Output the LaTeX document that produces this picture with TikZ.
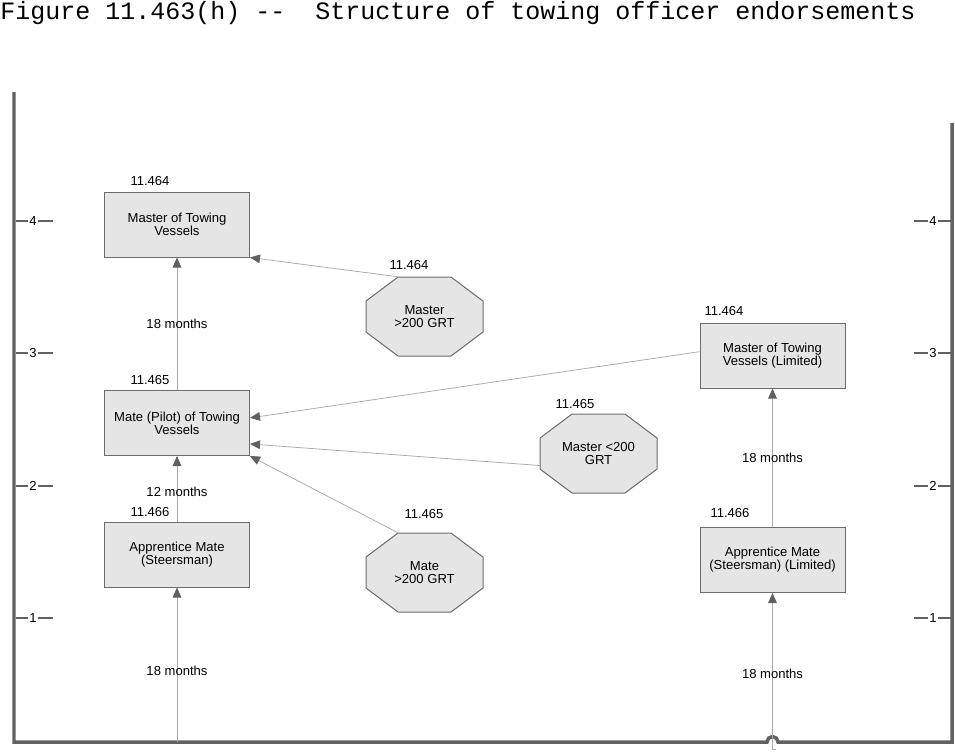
\documentclass[tikz,border=0pt]{standalone}
\usepackage{fontspec}
\setmainfont{Liberation Sans}
\newfontfamily\titlefont{Liberation Mono}
\usetikzlibrary{arrows.meta}

\begin{document}
\begin{tikzpicture}[
        x=0.75pt, y=-0.75pt,
        font=\fontsize{9.8}{9.75}\selectfont,
        endorse/.style={rectangle, draw=gray!85!black, fill=gray!20, line width=0.75pt, minimum width=108.75pt, minimum height=48.75pt, align=center, inner sep=1pt},
        octagon/.style={draw=gray!85!black, fill=gray!20, line width=0.75pt},
        route/.style={rectangle, minimum width=87.75pt, minimum height=59.25pt, align=center, inner sep=1pt},
        tag/.style={inner sep=0pt},
        arrow/.style={-{Triangle[length=7.5pt, width=6.5pt, color=gray!75!black]}, draw=gray!65, line width=0.6pt},
        axis/.style={draw=black!62, line width=2.6pt},
        tick/.style={draw=black!62, line width=1.5pt}
    ]
        \useasboundingbox (0,0) rectangle (955,751);

        % Title
        \node[anchor=base west, inner sep=0pt, font=\titlefont\fontsize{18.75}{20}\selectfont] (title) at (0,19.5) {Figure 11.463(h) -{}-\ \ Structure of towing officer endorsements};

        % Frame and scale
        \draw[axis] (14,92) -- (14,742) -- (767,742) arc[start angle=180, end angle=360, radius=5.5] -- (952,742) -- (952,123);
        \foreach \y/\v in {221/4, 353/3, 486/2, 618/1} {
            \draw[tick] (16,\y) -- (53,\y);
            \node[tag, fill=white, inner xsep=1pt] (lv\v) at (33,\y) {\v};
            \draw[tick] (914,\y) -- (951,\y);
            \node[tag, fill=white, inner xsep=1pt] (rv\v) at (933,\y) {\v};
        }

        % Endorsements
        \node[endorse] (mtv) at (177,224.5) {Master of Towing\\Vessels};
        \node[endorse] (mate) at (177,423) {Mate (Pilot) of Towing\\Vessels};
        \node[endorse] (appr) at (177,554.5) {Apprentice Mate\\(Steersman)};
        \node[endorse] (mtvl) at (772.5,355.5) {Master of Towing\\Vessels (Limited)};
        \node[endorse] (apprl) at (772.5,560) {Apprentice Mate\\(Steersman) (Limited)};

        % Other routes
        \foreach \cx/\cy in {424.5/316.5, 598.5/453.5, 424.5/572.5}
            \draw[octagon] (\cx,\cy) ++(-26.5,-39.5) -- ++(53,0) -- ++(32,24) -- ++(0,31) -- ++(-32,24)
                -- ++(-53,0) -- ++(-32,-24) -- ++(0,-31) -- cycle;
        \node[route] (m200) at (424.5,316.5) {Master\\>200 GRT};
        \node[route] (ml200) at (598.5,453.5) {Master <200\\GRT};
        \node[route] (mt200) at (424.5,572.5) {Mate\\>200 GRT};

        % Section numbers
        \node[tag] (smtv) at (150,181) {11.464};
        \node[tag] (smate) at (150,380) {11.465};
        \node[tag] (sappr) at (150,512) {11.466};
        \node[tag] (smtvl) at (724,311) {11.464};
        \node[tag] (sapprl) at (730,513) {11.466};
        \node[tag] (sm200) at (409,265) {11.464};
        \node[tag] (sml200) at (575,404) {11.465};
        \node[tag] (smt200) at (424,514) {11.465};

        % Sea service
        \coordinate (base) at (177,742);
        \coordinate (basel) at (776,749);
        \draw[arrow] (mate) -- node[tag] (q1) {18 months} (mtv);
        \draw[arrow] (appr) -- node[tag, pos=0.45] (q2) {12 months} (mate);
        \draw[arrow] (base) -- node[tag, pos=0.46] (q3) {18 months} (appr);
        \draw[arrow] (apprl) -- node[tag] (q4) {18 months} (mtvl);
        \draw[arrow] (basel) -- (772.5,749) -- node[tag, pos=0.48] (q5) {18 months} (apprl);

        % Crossovers
        \draw[arrow] ([xshift=-19.9pt]m200.north) -- (mtv.south east);
        \draw[arrow] (mtvl.177) -- (mate.4);
        \draw[arrow] ([yshift=-9pt]ml200.west) -- (mate.344);
        \draw[arrow] ([xshift=-19.9pt]mt200.north) -- (mate.south east);
    \end{tikzpicture}
\end{document}
